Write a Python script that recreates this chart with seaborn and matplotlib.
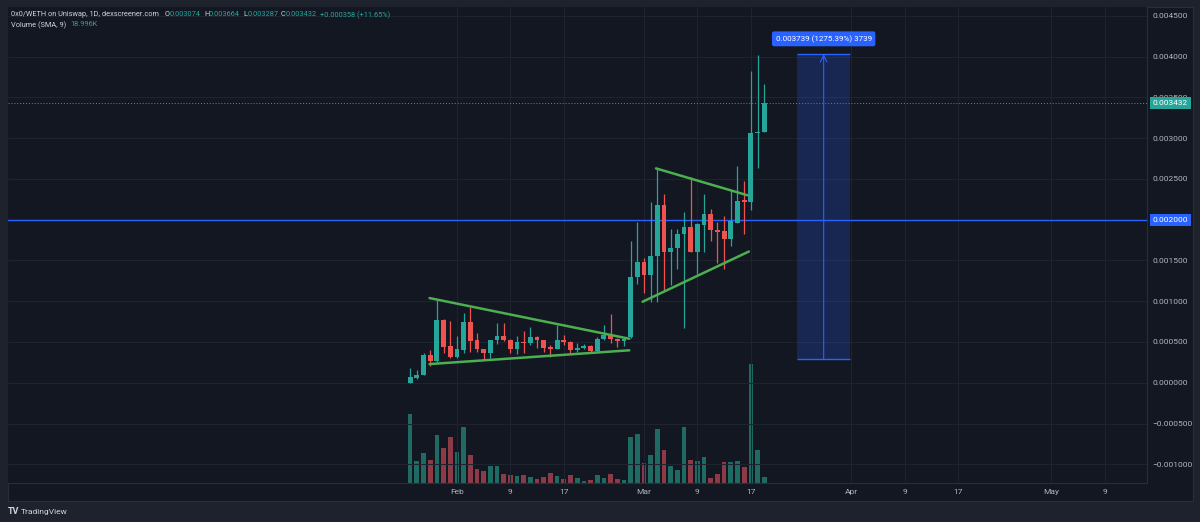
import pandas as pd
import matplotlib.pyplot as plt
import matplotlib.dates as mdates
import matplotlib.transforms as mtransforms
from matplotlib.patches import Rectangle
import seaborn as sns

# ── Data ──────────────────────────────────────────────────────────────────────
start_date = '2023-01-25'
opens = [0.00000, 0.00006, 0.00009, 0.00034, 0.00027, 0.00077, 0.00045, 0.00031, 0.00040, 0.00074,
         0.00052, 0.00041, 0.00037, 0.00052, 0.00057, 0.00053, 0.00041, 0.00050, 0.00049, 0.00056,
         0.00052, 0.00043, 0.00042, 0.00052, 0.00050, 0.00040, 0.00043, 0.00045, 0.00039, 0.00054,
         0.00058, 0.00054, 0.00051, 0.00056, 0.00130, 0.00148, 0.00132, 0.00155, 0.00218, 0.00161,
         0.00165, 0.00183, 0.00191, 0.00161, 0.00194, 0.00207, 0.00188, 0.00186, 0.00176, 0.00196,
         0.00224, 0.00222, 0.00306, 0.003074]
highs = [0.00018, 0.00016, 0.00036, 0.00040, 0.00101, 0.00078, 0.00076, 0.00057, 0.00086, 0.00093,
         0.00061, 0.00042, 0.00053, 0.00073, 0.00073, 0.00054, 0.00057, 0.00063, 0.00068, 0.00057,
         0.00053, 0.00046, 0.00071, 0.00059, 0.00051, 0.00049, 0.00047, 0.00046, 0.00056, 0.00071,
         0.00084, 0.00055, 0.00055, 0.00174, 0.00197, 0.00153, 0.00222, 0.00264, 0.00232, 0.00189,
         0.00189, 0.00210, 0.00252, 0.00196, 0.00232, 0.00213, 0.00197, 0.00205, 0.00236, 0.00266,
         0.00248, 0.00382, 0.00402, 0.003664]
lows = [0.00000, 0.00004, 0.00009, 0.00020, 0.00026, 0.00037, 0.00030, 0.00030, 0.00037, 0.00038,
        0.00038, 0.00029, 0.00030, 0.00048, 0.00051, 0.00037, 0.00035, 0.00037, 0.00046, 0.00043,
        0.00038, 0.00032, 0.00042, 0.00046, 0.00036, 0.00038, 0.00042, 0.00036, 0.00038, 0.00052,
        0.00049, 0.00044, 0.00045, 0.00055, 0.00121, 0.00110, 0.00099, 0.00099, 0.00114, 0.00120,
        0.00139, 0.00067, 0.00160, 0.00134, 0.00161, 0.00174, 0.00147, 0.00139, 0.00168, 0.00196,
        0.00183, 0.00212, 0.00264, 0.003074]
closes = [0.000065, 0.00010, 0.00034, 0.00027, 0.00077, 0.00044, 0.00031, 0.00041, 0.00074, 0.00051,
          0.00041, 0.00037, 0.00052, 0.00057, 0.00052, 0.00041, 0.00050, 0.00049, 0.00056, 0.00052,
          0.00043, 0.00042, 0.00052, 0.00050, 0.00040, 0.00043, 0.00045, 0.00039, 0.00054, 0.00058,
          0.00054, 0.00051, 0.00054, 0.00130, 0.00148, 0.00132, 0.00155, 0.00218, 0.00161, 0.00165,
          0.00183, 0.00191, 0.00161, 0.00195, 0.00207, 0.00187, 0.00185, 0.00176, 0.00198, 0.00223,
          0.00222, 0.00306, 0.003074, 0.003432]
volume_k = [46.7, 14.9, 20.3, 15.8, 32.5, 23.5, 31.1, 21.0, 37.9, 19.2,
            9.5, 8.3, 11.7, 11.3, 6.1, 5.4, 4.5, 5.4, 3.8, 2.7,
            4.1, 6.8, 4.5, 2.9, 5.2, 3.4, 1.6, 2.0, 5.4, 3.4,
            6.1, 2.9, 2.0, 30.9, 33.4, 13.8, 19.2, 36.8, 22.3, 11.3,
            8.8, 37.9, 15.6, 14.9, 17.6, 3.6, 6.3, 14.2, 14.2, 14.7,
            10.8, 80.5, 22.6, 4.1]

tick_dates = ['2023-02-01', '2023-02-09', '2023-02-17', '2023-03-01', '2023-03-09', '2023-03-17',
              '2023-04-01', '2023-04-09', '2023-04-17', '2023-05-01', '2023-05-09']
tick_labels = ['Feb', '9', '17', 'Mar', '9', '17', 'Apr', '9', '17', 'May', '9']
price_ticks = [0.0045, 0.004, 0.0035, 0.003, 0.0025, 0.002, 0.0015, 0.001, 0.0005, 0.0, -0.0005, -0.001]

# trendlines: (start day, start price, end day, end price), days counted from start_date
trendlines = [(2.9, 0.001039, 32.8, 0.000540),
              (2.9, 0.000229, 32.8, 0.000398),
              (36.8, 0.002630, 50.5, 0.002300),
              (34.8, 0.000994, 50.7, 0.001610)]
alert_price = 0.002
measure_days = (57.9, 65.9)
measure_prices = (0.000293, 0.004032)
measure_label = '0.003739 (1275.39%) 3739'

# ── Style ─────────────────────────────────────────────────────────────────────
BG = '#131722'
OUTER = '#1e222d'
BORDER = '#2a2e39'
GRID = '#1f2330'
TEXT = '#b2b5be'
UP = '#26a69a'
DOWN = '#ef5350'
VOL_UP = '#1f6b64'
VOL_DOWN = '#8c3a45'
BLUE = '#2962ff'
GREEN = '#4caf50'

sns.set_theme(style='dark')
plt.rcParams['font.family'] = ['Roboto', 'DejaVu Sans']

dates = pd.date_range(start_date, periods=len(opens), freq='D')
df = pd.DataFrame({'date': dates, 'open': opens, 'high': highs, 'low': lows,
                   'close': closes, 'volume': volume_k})
df['x'] = mdates.date2num(df['date'])
df['dir'] = ['up' if c >= o else 'down' for o, c in zip(df['open'], df['close'])]
x0 = df['x'].iloc[0]

fig = plt.figure(figsize=(12, 5.22), dpi=100, facecolor=OUTER)
W, H = 1200, 522
fig.add_artist(Rectangle((8 / W, 1 - 501 / H), (1193 - 8) / W, (501 - 7) / H,
                         transform=fig.transFigure, facecolor=BG, edgecolor=BORDER,
                         linewidth=0.8, zorder=0))

ax = fig.add_axes([8 / W, 1 - 483 / H, (1147 - 8) / W, (483 - 7) / H])
axv = ax.twinx()

# ── Volume (behind candles) ───────────────────────────────────────────────────
sns.barplot(data=df, x='x', y='volume', hue='dir', palette={'up': VOL_UP, 'down': VOL_DOWN},
            native_scale=True, dodge=False, legend=False, errorbar=None,
            saturation=1, linewidth=0, width=0.7, ax=axv)
axv.set_ylim(0, 322)
axv.set_yticks([])
axv.set_ylabel('')
axv.set_xlabel('')
axv.patch.set_visible(True)
axv.patch.set_facecolor(BG)
for s in axv.spines.values():
    s.set_visible(False)

ax.set_zorder(axv.get_zorder() + 1)
ax.patch.set_visible(False)

# ── Candles ──────────────────────────────────────────────────────────────────
colors = [UP if d == 'up' else DOWN for d in df['dir']]
ax.vlines(df['x'], df['low'], df['high'], colors=colors, linewidth=0.9, zorder=3)
body_low = df[['open', 'close']].min(axis=1)
body_h = (df['close'] - df['open']).abs().clip(lower=0.000014)
ax.bar(df['x'], body_h, bottom=body_low, width=0.72, color=colors, linewidth=0, zorder=4)

# ── Drawings ─────────────────────────────────────────────────────────────────
for d0, p0, d1, p1 in trendlines:
    ax.plot([x0 + d0, x0 + d1], [p0, p1], color=GREEN, linewidth=1.8,
            solid_capstyle='round', zorder=5)

ax.axhline(alert_price, color=BLUE, linewidth=1, zorder=2)
last_close = closes[-1]
ax.axhline(last_close, color=UP, linewidth=0.7, linestyle=(0, (1, 2)), zorder=2)

bx0, bx1 = x0 + measure_days[0], x0 + measure_days[1]
pb, pt = measure_prices
ax.add_patch(Rectangle((bx0, pb), bx1 - bx0, pt - pb, facecolor=BLUE, alpha=0.22,
                       edgecolor='none', zorder=2))
ax.hlines([pb, pt], bx0, bx1, color=BLUE, linewidth=1, zorder=2)
cx = (bx0 + bx1) / 2
ax.annotate('', xy=(cx, pt), xytext=(cx, pb),
            arrowprops=dict(arrowstyle='->', color=BLUE, lw=0.8, shrinkA=0, shrinkB=0),
            zorder=3)
ax.annotate(measure_label, xy=(cx, pt), xytext=(0, 11), textcoords='offset points',
            ha='center', va='center', color='white', fontsize=5.8,
            bbox=dict(boxstyle='round,pad=0.45,rounding_size=0.25', fc=BLUE, ec='none'))

# ── Axes ─────────────────────────────────────────────────────────────────────
ax.set_xlim(x0 - 60.2, x0 + 110.3)
ax.set_ylim(-0.00123, 0.00461)
ax.yaxis.tick_right()
ax.set_yticks(price_ticks)
# the 0.002 tick is hidden behind the alert label on the scale
ax.set_yticklabels(['' if p == alert_price else f'{p:.6f}'.replace('-', '\u2212')
                    for p in price_ticks])
ax.set_xticks(mdates.date2num(pd.to_datetime(tick_dates)))
ax.set_xticklabels(tick_labels)
ax.tick_params(axis='both', length=0, colors=TEXT, labelsize=6)
ax.tick_params(axis='y', pad=4)
ax.tick_params(axis='x', pad=4)
ax.grid(True, color=GRID, linewidth=0.8)
ax.set_axisbelow(True)
for name, s in ax.spines.items():
    s.set_visible(name in ('bottom', 'right'))
    s.set_color(BORDER)
    s.set_linewidth(0.8)

# price labels on the scale
trans = mtransforms.blended_transform_factory(ax.transAxes, ax.transData)
for price, fc in [(last_close, UP), (alert_price, BLUE)]:
    ax.annotate(f'{price:.6f}', xy=(1, price), xycoords=trans, xytext=(4, 0),
                textcoords='offset points', ha='left', va='center',
                color='white', fontsize=6, zorder=10, annotation_clip=False,
                bbox=dict(boxstyle='square,pad=0.35', fc=fc, ec='none'))

# ── Header ───────────────────────────────────────────────────────────────────
def hdr(x, y, s, c):
    fig.text(x / W, 1 - y / H, s, color=c, fontsize=5.3, va='center', ha='left')

hdr(11, 15, '0x0/WETH on Uniswap, 1D, dexscreener.com', '#d1d4dc')
for x, k, v in [(165, 'O', '0.003074'), (204, 'H', '0.003664'),
                (243, 'L', '0.003287'), (281, 'C', '0.003432')]:
    hdr(x, 15, k, '#d1d4dc')
    hdr(x + 5, 15, v, UP)
hdr(320, 15, '+0.000358 (+11.65%)', UP)
hdr(11, 25, 'Volume (SMA, 9)', '#d1d4dc')
hdr(70, 25, '18.996K', UP)

fig.text(8 / W, 1 - 512 / H, 'TV', color='#d1d4dc', fontsize=6.5, fontweight='bold',
         va='center', ha='left')
fig.text(21 / W, 1 - 512 / H, 'TradingView', color='#d1d4dc', fontsize=6,
         va='center', ha='left')

fig.savefig('out.png', dpi=100, facecolor=OUTER)
